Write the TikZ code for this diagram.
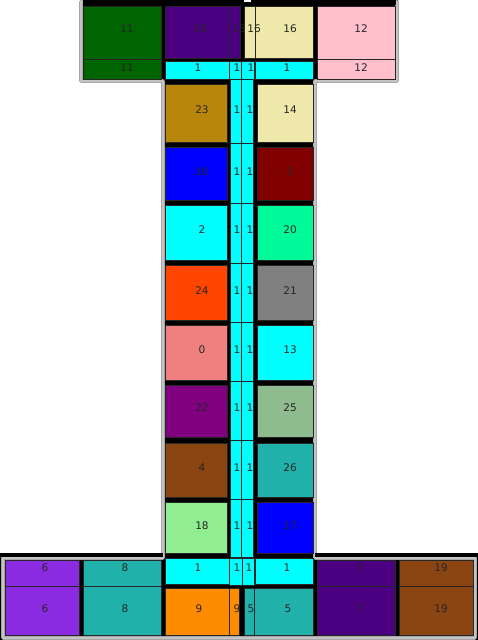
\documentclass[tikz,border=0pt]{standalone}
\usepackage{fontspec}
\setmainfont{DejaVu Sans}
\definecolor{cDG}{HTML}{006400}
\definecolor{cIND}{HTML}{4B0082}
\definecolor{cPG}{HTML}{EEE8AA}
\definecolor{cPK}{HTML}{FFC0CB}
\definecolor{cCY}{HTML}{00FFFF}
\definecolor{cDGR}{HTML}{B8860B}
\definecolor{cBL}{HTML}{0000FF}
\definecolor{cMR}{HTML}{800000}
\definecolor{cMSG}{HTML}{00FA9A}
\definecolor{cOR}{HTML}{FF4500}
\definecolor{cGR}{HTML}{808080}
\definecolor{cLC}{HTML}{F08080}
\definecolor{cPU}{HTML}{800080}
\definecolor{cDSG}{HTML}{8FBC8F}
\definecolor{cSB}{HTML}{8B4513}
\definecolor{cLSG}{HTML}{20B2AA}
\definecolor{cLG}{HTML}{90EE90}
\definecolor{cBV}{HTML}{8A2BE2}
\definecolor{cDO}{HTML}{FF8C00}
\definecolor{cOUT}{HTML}{C4C4C4}
\newcommand{\rmbox}[5]{\draw[roombox,fill=#5] (#1,#2) rectangle (#3,#4);}
\begin{document}
\begin{tikzpicture}[x=1pt,y=-1pt,
  roombox/.style={draw=black!85,line width=0.6pt},
  lbl/.style={font=\fontsize{10.5}{12}\selectfont,text=black!85,inner sep=0pt}]
\useasboundingbox (0,0) rectangle (478,640);
% black body
\fill[black] (81,0) -- (398,0) -- (398,82) -- (316,82) -- (316,553) -- (478,553) -- (478,640) -- (0,640) -- (0,553) -- (162,553) -- (162,82) -- (81,82) -- cycle;
% gray outline
\draw[gray!70,line width=3.4pt,line join=round] (81,2) -- (397,2) -- (397,81) -- (315,81) -- (315,558) -- (475,558) -- (475,638) -- (3,638) -- (3,558) -- (163,558) -- (163,81) -- (81,81) -- cycle;
\draw[cOUT,line width=2pt,line join=round] (81,2) -- (397,2) -- (397,81) -- (315,81) -- (315,558) -- (475,558) -- (475,638) -- (3,638) -- (3,558) -- (163,558) -- (163,81) -- (81,81) -- cycle;
\fill[black] (83,0) rectangle (396,5);
\fill[white] (244,0) rectangle (251,1.5);
\fill[black] (0,553) rectangle (163,556.5);
\fill[black] (315,553) rectangle (478,556.5);
% top flange
\rmbox{83}{6}{161}{59}{cDG}
\rmbox{83}{59}{161}{79}{cDG}
\rmbox{165}{6}{229}{58}{cIND}
\rmbox{229}{6}{240}{58}{cIND}
\rmbox{244}{6}{255}{58}{cPG}
\rmbox{255}{6}{313}{58}{cPG}
\rmbox{317}{6}{395}{59}{cPK}
\rmbox{317}{59}{395}{79}{cPK}
\rmbox{165}{61}{229}{79}{cCY}
\rmbox{229}{61}{241.5}{79}{cCY}
\rmbox{241.5}{61}{254}{79}{cCY}
\rmbox{255}{61}{313}{79}{cCY}
% corridor
\foreach \a/\b in {79/143,143/203,203/263,263/322,322/381,381/440,440/499,499/557}{
  \draw[roombox,fill=cCY] (230,\a) rectangle (241.5,\b);
  \draw[roombox,fill=cCY] (241.5,\a) rectangle (253,\b);
}
% web rooms
\foreach \a/\b/\cl/\cr in {84/142/cDGR/cPG,147/200/cBL/cMR,205/260/cCY/cMSG,265/320/cOR/cGR,325/380/cLC/cCY,385/437/cPU/cDSG,443/497/cSB/cLSG,502/553/cLG/cBL}{
  \draw[roombox,fill=\cl] (165,\a) rectangle (227,\b);
  \draw[roombox,fill=\cr] (257,\a) rectangle (313,\b);
}
% bottom flange
\rmbox{5}{560}{79}{586}{cBV}
\rmbox{83}{560}{161}{586}{cLSG}
\rmbox{165}{558}{229}{584}{cCY}
\rmbox{229}{558}{242}{585}{cCY}
\rmbox{242}{558}{254}{585}{cCY}
\rmbox{255}{558}{313}{584}{cCY}
\rmbox{317}{560}{395}{586}{cIND}
\rmbox{399}{560}{473}{586}{cSB}
\rmbox{5}{586}{79}{635}{cBV}
\rmbox{83}{586}{161}{635}{cLSG}
\rmbox{165}{588}{229}{635}{cDO}
\rmbox{229}{588}{239}{635}{cDO}
\rmbox{244}{588}{254}{635}{cLSG}
\rmbox{254}{588}{313}{635}{cLSG}
\rmbox{317}{586}{395}{635}{cIND}
\rmbox{399}{586}{473}{635}{cSB}
% labels top
\node[lbl] (t11) at (127,29) {11};
\node[lbl] (t15) at (201,29) {15};
\node[lbl] (t15b) at (239,29) {15};
\node[lbl] (t16b) at (254,29) {16};
\node[lbl] (t16) at (290,29) {16};
\node[lbl] (t12) at (361,29) {12};
\node[lbl] (u11) at (127,68) {11};
\node[lbl] (u1a) at (198,68) {1};
\node[lbl] (u1b) at (237,68) {1};
\node[lbl] (u1c) at (251,68) {1};
\node[lbl] (u1d) at (287,68) {1};
\node[lbl] (u12) at (361,68) {12};
% web labels
\foreach \y/\l/\r [count=\i] in {110/23/14,172/10/3,230/2/20,291/24/21,350/0/13,408/22/25,468/4/26,526/18/17}{
  \node[lbl] (wl\i) at (202,\y) {\l};
  \node[lbl] (ca\i) at (237,\y) {1};
  \node[lbl] (cb\i) at (250,\y) {1};
  \node[lbl] (wr\i) at (290,\y) {\r};
}
% bottom labels
\foreach \x/\t [count=\i] in {45/6,125/8,198/1,237/1,249/1,287/1,359/7,441/19}{
  \node[lbl] (ba\i) at (\x,568) {\t};
}
\foreach \x/\t [count=\i] in {45/6,125/8,199/9,237/9,251/5,288/5,359/7,441/19}{
  \node[lbl] (bb\i) at (\x,609) {\t};
}
\end{tikzpicture}
\end{document}
